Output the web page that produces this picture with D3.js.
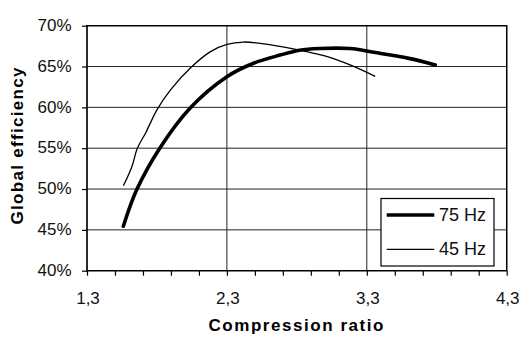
<!DOCTYPE html>
<html><head><meta charset="utf-8">
<script src="https://cdn.jsdelivr.net/npm/d3@7"></script>
<style>body{margin:0;background:#fff}svg{display:block}</style>
</head><body>
<script>
const xTicks = [1.3, 2.3, 3.3, 4.3];
const xTickLabels = ["1,3", "2,3", "3,3", "4,3"];
const yTicks = [0.40, 0.45, 0.50, 0.55, 0.60, 0.65, 0.70];
const yTickLabels = ["40%", "45%", "50%", "55%", "60%", "65%", "70%"];
const seriesNames = ["75 Hz", "45 Hz"];
const x75 = [1.56, 1.655, 1.82, 2.036, 2.30, 2.49, 2.68, 2.82, 2.96, 3.18, 3.30, 3.40, 3.60, 3.79];
const y75 = [0.4545, 0.499, 0.550, 0.599, 0.6375, 0.654, 0.664, 0.670, 0.672, 0.672, 0.669, 0.666, 0.660, 0.652];
const x45 = [1.56, 1.62, 1.66, 1.72, 1.80, 1.90, 2.05, 2.18, 2.30, 2.42, 2.55, 2.70, 2.85, 3.0, 3.18, 3.36];
const y45 = [0.504, 0.527, 0.550, 0.569, 0.597, 0.622, 0.650, 0.668, 0.677, 0.680, 0.678, 0.674, 0.669, 0.663, 0.652, 0.638];

const W = 521, H = 338;
const svg = d3.select("body").append("svg").attr("width", W).attr("height", H);
const L = 87, R = 506.7, T = 25.7, B = 270.7;
const x = d3.scaleLinear().domain([1.3, 4.3]).range([L, R]);
const y = d3.scaleLinear().domain([0.40, 0.70]).range([B, T]);
const font = "'Liberation Sans', Arial, sans-serif";

// gridlines
const g = svg.append("g");
g.selectAll("line.hg").data(yTicks).enter().append("line")
  .attr("x1", L).attr("x2", R).attr("y1", d => y(d)).attr("y2", d => y(d))
  .attr("stroke", "#222").attr("stroke-width", 1);
g.selectAll("line.vg").data(xTicks).enter().append("line")
  .attr("y1", T).attr("y2", B).attr("x1", d => x(d)).attr("x2", d => x(d))
  .attr("stroke", "#222").attr("stroke-width", 1);
// frame
svg.append("rect").attr("x", L).attr("y", T).attr("width", R - L).attr("height", B - T)
  .attr("fill", "none").attr("stroke", "#000").attr("stroke-width", 1.4);

// axes
const minor = d3.range(13, 44, 2).map(d => d / 10);
const xAxis = d3.axisBottom(x).tickValues(minor).tickSize(5).tickFormat("");
svg.append("g").attr("transform", `translate(0,${B})`).call(xAxis)
  .call(a => { a.select(".domain").remove(); a.selectAll("line").attr("stroke", "#000").attr("stroke-width", 1.2); });
svg.append("g").selectAll("text").data(xTicks).enter().append("text")
  .attr("x", d => x(d) + 1).attr("y", 304).attr("text-anchor", "middle")
  .attr("font-family", font).attr("font-size", 17).attr("fill", "#111")
  .text((d, i) => xTickLabels[i]);

const yAxis = d3.axisLeft(y).tickValues(yTicks).tickSize(5).tickFormat((d, i) => yTickLabels[i]);
svg.append("g").attr("transform", `translate(${L},0)`).call(yAxis)
  .call(a => {
    a.select(".domain").remove();
    a.selectAll("line").attr("stroke", "#000").attr("stroke-width", 1.2);
    a.selectAll("text").attr("font-family", font).attr("font-size", 17).attr("fill", "#111")
      .attr("x", -15.5).attr("dy", "0.28em");
  });

// titles
svg.append("text").attr("x", 296).attr("y", 331).attr("text-anchor", "middle")
  .attr("font-family", font).attr("font-weight", "bold").attr("font-size", 17)
  .attr("textLength", 175).attr("lengthAdjust", "spacing").attr("fill", "#000")
  .text("Compression ratio");
svg.append("text").attr("transform", "translate(23,146) rotate(-90)").attr("text-anchor", "middle")
  .attr("font-family", font).attr("font-weight", "bold").attr("font-size", 17)
  .attr("textLength", 157).attr("lengthAdjust", "spacing").attr("fill", "#000")
  .text("Global efficiency");

// lines
const line = d3.line().x(d => x(d[0])).y(d => y(d[1])).curve(d3.curveCatmullRom.alpha(0.5));
const d75 = x75.map((v, i) => [v, y75[i]]);
const d45 = x45.map((v, i) => [v, y45[i]]);
svg.append("path").attr("d", line(d45)).attr("fill", "none").attr("stroke", "#000").attr("stroke-width", 1.3);
svg.append("path").attr("d", line(d75)).attr("fill", "none").attr("stroke", "#000").attr("stroke-width", 3.6).attr("stroke-linecap", "round");

// legend
const lg = svg.append("g");
lg.append("rect").attr("x", 381).attr("y", 198.5).attr("width", 113).attr("height", 67.5)
  .attr("fill", "#fff").attr("stroke", "#000").attr("stroke-width", 1.2);
const legY = [215, 249.3];
const legW = [3.6, 1.3];
seriesNames.forEach((s, i) => {
  lg.append("line").attr("x1", 386.7).attr("x2", 434.3).attr("y1", legY[i]).attr("y2", legY[i])
    .attr("stroke", "#000").attr("stroke-width", legW[i]);
  lg.append("text").attr("x", 439).attr("y", legY[i] + 5.8)
    .attr("font-family", font).attr("font-size", 18).attr("fill", "#111").text(s);
});
</script>
</body></html>
